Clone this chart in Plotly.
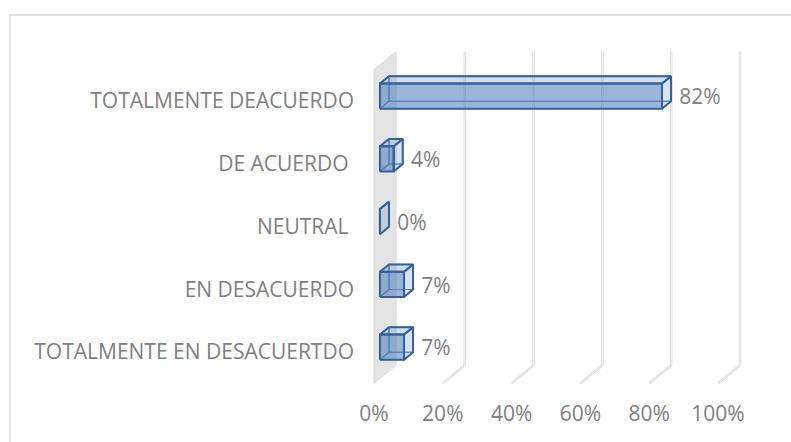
import plotly.graph_objects as go

# ---- data ----
categories = ["TOTALMENTE EN DESACUERTDO", "EN DESACUERDO", "NEUTRAL\u00a0", "DE ACUERDO\u00a0", "TOTALMENTE DEACUERDO"]
values = [7, 7, 0, 4, 82]
value_labels = ["7%", "7%", "0%", "4%", "82%"]
tick_values = [0, 20, 40, 60, 80, 100]
tick_labels = ["0%", "20%", "40%", "60%", "80%", "100%"]

# ---- 3D projection parameters (layout, not data) ----
DX = 6.4      # depth offset in x units (%)
DY = 0.288    # depth offset in category units
D0, D1 = 0.27, 0.68   # bar depth span
H = 0.2       # half bar thickness (category units)
Y0, Y1 = -0.5, 4.5    # wall extent

def P(x, y, d):
    return x + d * DX, y + d * DY

def poly(pts):
    xs, ys = [], []
    for (x, y, d) in pts:
        px, py = P(x, y, d)
        xs.append(px); ys.append(py)
    xs.append(xs[0]); ys.append(ys[0])
    return xs, ys

TEXT = "#808080"
FONT = "Open Sans"
FS = 21
OUT = "#35619b"

fig = go.Figure()

# left wall
wx, wy = poly([(0, Y0, 0), (0, Y1, 0), (0, Y1, 1), (0, Y0, 1)])
fig.add_trace(go.Scatter(x=wx, y=wy, mode="lines", fill="toself", fillcolor="#e4e4e4",
                         line=dict(color="#d9d9d9", width=1), hoverinfo="skip", showlegend=False))

# back wall gridlines and floor lines
gx, gy, fx, fy = [], [], [], []
for t in tick_values[1:]:
    a = P(t, Y0, 1); b = P(t, Y1, 1)
    gx += [a[0], b[0], None]; gy += [a[1], b[1], None]
    c = P(t, Y0, 0)
    fx += [c[0], a[0], None]; fy += [c[1], a[1], None]
for xs, ys in ((gx, gy), (fx, fy)):
    fig.add_trace(go.Scatter(x=xs, y=ys, mode="lines", line=dict(color="#d9d9d9", width=2.4),
                             hoverinfo="skip", showlegend=False))
    fig.add_trace(go.Scatter(x=xs, y=ys, mode="lines", line=dict(color="#f6f6f6", width=0.9),
                             hoverinfo="skip", showlegend=False))

# bars
def faces(kind):
    xs, ys = [], []
    for i, v in enumerate(values):
        lo, hi = i - H, i + H
        if kind == "back":
            pts = [(0, lo, D1), (v, lo, D1), (v, hi, D1), (0, hi, D1)]
        elif kind == "left":
            pts = [(0, lo, D0), (0, hi, D0), (0, hi, D1), (0, lo, D1)]
        elif kind == "bottom":
            pts = [(0, lo, D0), (v, lo, D0), (v, lo, D1), (0, lo, D1)]
        elif kind == "front":
            pts = [(0, lo, D0), (v, lo, D0), (v, hi, D0), (0, hi, D0)]
        elif kind == "top":
            pts = [(0, hi, D0), (v, hi, D0), (v, hi, D1), (0, hi, D1)]
        else:
            pts = [(v, lo, D0), (v, hi, D0), (v, hi, D1), (v, lo, D1)]
        px, py = poly(pts)
        xs += px + [None]; ys += py + [None]
    return xs, ys

styles = {
    "back": ("rgba(79,129,189,0.12)", "#5a86bb", 1.2),
    "left": ("rgba(79,129,189,0.10)", "#5a86bb", 1.2),
    "bottom": ("rgba(79,129,189,0.10)", "#5a86bb", 1.2),
    "front": ("rgba(79,129,189,0.52)", OUT, 2),
    "top": ("rgba(79,129,189,0.16)", OUT, 2),
    "right": ("rgba(79,129,189,0.12)", OUT, 2),
}
for k in ["back", "left", "bottom", "front", "top", "right"]:
    xs, ys = faces(k)
    fc, lc, lw = styles[k]
    fig.add_trace(go.Scatter(x=xs, y=ys, mode="lines", fill="toself", fillcolor=fc,
                             line=dict(color=lc, width=lw), hoverinfo="skip", showlegend=False))

# data labels
lx = [v + D1 * DX + 2.4 for v in values]
ly = [i + 0.03 for i in range(len(values))]
fig.add_trace(go.Scatter(x=lx, y=ly, mode="text", text=value_labels, textposition="middle right",
                         textfont=dict(family=FONT, size=FS, color=TEXT),
                         hoverinfo="skip", showlegend=False))

W, Hh = 791, 442
L, R, T, B = 358, 21, 40, 43
pxu = 3.44
xmin = (L - 374) / pxu
xmax = xmin + (W - L - R) / pxu
ypx = 62.75
ymin = -(Hh - B - 352) / ypx
ymax = ymin + (Hh - T - B) / ypx

fig.update_layout(
    width=W, height=Hh,
    margin=dict(l=L, r=R, t=T, b=B),
    paper_bgcolor="white", plot_bgcolor="white",
    xaxis=dict(range=[xmin, xmax], tickvals=tick_values, ticktext=tick_labels,
               showgrid=False, zeroline=False, showline=False, ticks="",
               tickfont=dict(family=FONT, size=FS, color=TEXT), fixedrange=True),
    yaxis=dict(range=[ymin, ymax], tickvals=list(range(len(categories))), ticktext=categories,
               showgrid=False, zeroline=False, showline=False, ticks="", ticklabelstandoff=3,
               tickfont=dict(family=FONT, size=FS, color=TEXT), fixedrange=True),
    shapes=[dict(type="rect", xref="paper", yref="paper", layer="below",
                 x0=(10 - L) / (W - L - R), x1=(W + 5 - L) / (W - L - R),
                 y0=-(B + 5) / (Hh - T - B), y1=1 + (T - 15) / (Hh - T - B),
                 line=dict(color="#d9d9d9", width=1.5), fillcolor="rgba(0,0,0,0)")],
)

fig.write_html("out.html", config={"displayModeBar": False},
               post_script="document.body.style.margin='0';document.body.style.overflow='hidden';")
